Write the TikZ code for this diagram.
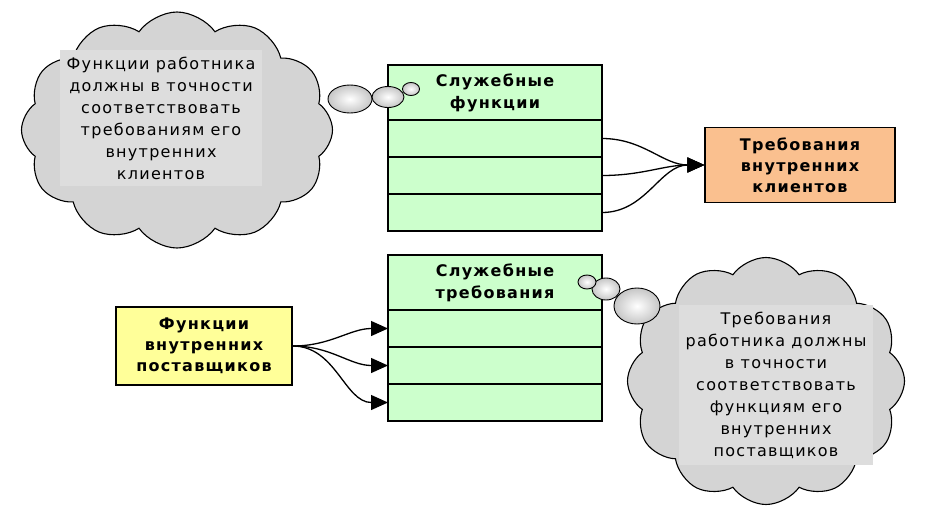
\documentclass[tikz,border=0pt]{standalone}
\usepackage{fontspec}
\setmainfont{DejaVu Sans}[LetterSpace=8]
\usetikzlibrary{arrows.meta,positioning,shapes.symbols,shapes.geometric}
\definecolor{rowgreen}{RGB}{204,255,204}
\definecolor{boxorange}{RGB}{250,192,143}
\definecolor{boxyellow}{RGB}{255,255,153}
\definecolor{cloudgray}{RGB}{212,212,212}
\definecolor{cloudlight}{RGB}{221,221,221}

\begin{document}
\begin{tikzpicture}[x=1pt,y=-1pt,
 cell/.style={draw,line width=1.3pt,fill=rowgreen,minimum width=214pt,minimum height=37pt,outer sep=0pt,inner sep=0pt},
 headcell/.style={cell,minimum height=55pt,align=center,font=\bfseries\fontsize{16}{22}\selectfont},
 sidebox/.style={draw,line width=1.3pt,align=center,inner sep=0pt,font=\bfseries\fontsize{16}{21}\selectfont},
 thought/.style={cloud,draw,line width=1.1pt,fill=cloudgray,cloud puffs=12,cloud puff arc=110,aspect=1.3,inner sep=0pt},
 thoughttext/.style={fill=cloudlight,align=center,inner sep=7pt,font=\fontsize{16}{22}\selectfont},
 bubble/.style={ellipse,draw,line width=.9pt,inner color=white,outer color=gray!45,inner sep=0pt},
 flow/.style={-{Triangle[length=17pt,width=15pt]},line width=1.3pt}]
 \path[use as bounding box] (0,0) rectangle (926,517);
 % first table and its target
 \node[headcell] (sfHead) at (495,92.5) {Служебные\\функции};
 \node[cell,below=0pt of sfHead] (sfRowA) {};
 \node[cell,below=0pt of sfRowA] (sfRowB) {};
 \node[cell,below=0pt of sfRowB] (sfRowC) {};
 \node[sidebox,fill=boxorange,minimum width=190pt,minimum height=75pt] (clients) at (800,165) {Требования\\внутренних\\клиентов};
 \foreach \r in {sfRowA,sfRowB,sfRowC}
  \draw[flow] (\r.east) to[out=0,in=180] (clients.west);
 % second table and its source
 \node[headcell] (srHead) at (495,282.5) {Служебные\\требования};
 \node[cell,below=0pt of srHead] (srRowA) {};
 \node[cell,below=0pt of srRowA] (srRowB) {};
 \node[cell,below=0pt of srRowB] (srRowC) {};
 \node[sidebox,fill=boxyellow,minimum width=176pt,minimum height=78pt] (suppliers) at (204,346) {Функции\\внутренних\\поставщиков};
 \foreach \r in {srRowA,srRowB,srRowC}
  \draw[flow] (suppliers.east) to[out=0,in=180] (\r.west);
 % thought clouds
 \node[thought,minimum width=311pt,minimum height=236pt] (leftCloud) at (177,130) {};
 \node[thoughttext] (leftNote) at (161,118) {Функции работника\\должны в точности\\соответствовать\\требованиям его\\внутренних\\клиентов};
 \node[bubble,minimum width=44pt,minimum height=28pt] (lbA) at (350,99) {};
 \node[bubble,minimum width=32pt,minimum height=21pt] (lbB) at (388,97) {};
 \node[bubble,minimum width=17pt,minimum height=13pt] (lbC) at (411,89) {};
 \node[thought,minimum width=277pt,minimum height=247pt] (rightCloud) at (766,381) {};
 \node[thoughttext] (rightNote) at (776,385) {Требования\\работника должны\\в точности\\соответствовать\\функциям его\\внутренних\\поставщиков};
 \node[bubble,minimum width=46pt,minimum height=36pt] (rbA) at (637,306) {};
 \node[bubble,minimum width=28pt,minimum height=22pt] (rbB) at (606,289) {};
 \node[bubble,minimum width=18pt,minimum height=14pt] (rbC) at (587,282) {};
\end{tikzpicture}
\end{document}
